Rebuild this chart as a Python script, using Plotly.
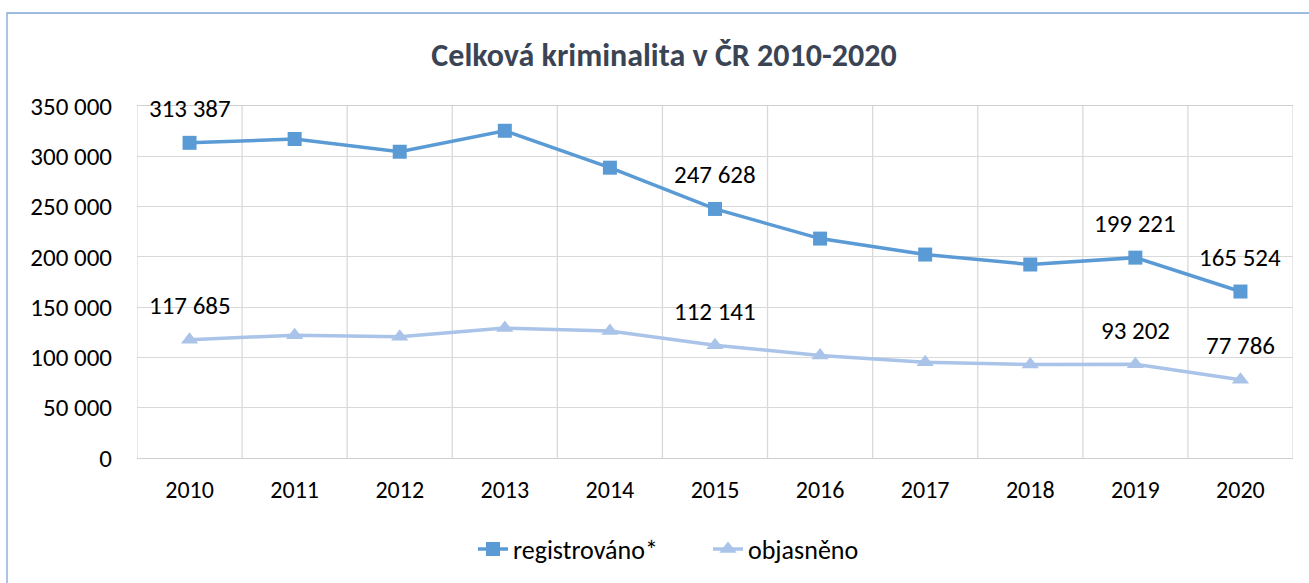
import plotly.graph_objects as go

years = ["2010", "2011", "2012", "2013", "2014", "2015", "2016", "2017", "2018", "2019", "2020"]
registrovano = [313387, 317177, 304528, 325366, 288660, 247628, 218162, 202303, 192405, 199221, 165524]
objasneno = [117685, 122124, 120641, 129138, 126229, 112141, 101951, 95183, 92930, 93202, 77786]
label_years = ["2010", "2015", "2019", "2020"]
y_ticks = [0, 50000, 100000, 150000, 200000, 250000, 300000, 350000]

FONT = "Carlito, Lato, sans-serif"
C1 = "#5B9BD5"
C2 = "#A9C4E8"

fig = go.Figure()
fig.add_trace(go.Scatter(
    x=years, y=registrovano, name="registrováno*", mode="lines+markers",
    line=dict(color=C1, width=3.5), marker=dict(symbol="square", size=14, color=C1)))
fig.add_trace(go.Scatter(
    x=years, y=objasneno, name="objasněno", mode="lines+markers",
    line=dict(color=C2, width=3.5), marker=dict(symbol="triangle-up", size=15, color=C2)))

def fmt(v):
    return f"{v:,}".replace(",", " ")

for series in (registrovano, objasneno):
    for i, (yr, v) in enumerate(zip(years, series)):
        if yr in label_years:
            fig.add_annotation(x=i, y=v, xref="x", yref="y", text=fmt(v), showarrow=False,
                               yshift=34, font=dict(family=FONT, size=25, color="#000000"))

fig.add_shape(type="rect", xref="paper", yref="paper",
              x0=(7 - 137) / 1156, x1=1.2, y0=-1, y1=(458 - 13) / 352,
              line=dict(color="#7FA6D6", width=1.3), fillcolor="rgba(0,0,0,0)", layer="below")

fig.update_layout(
    width=1309, height=583,
    margin=dict(l=137, r=16, t=106, b=125),
    paper_bgcolor="white", plot_bgcolor="white",
    separators=", ",
    title=dict(text="<b>Celková kriminalita v ČR 2010-2020</b>", x=664 / 1309, xanchor="center",
               y=1 - 55 / 583, yanchor="middle", xref="container", yref="container",
               font=dict(family=FONT, size=32, color="#3A4454")),
    font=dict(family=FONT, size=24, color="#000000"),
    legend=dict(orientation="h", x=473 / 1309, xanchor="left", xref="container",
                y=1 - 549 / 583, yanchor="middle", yref="container",
                font=dict(family=FONT, size=26, color="#000000"),
                entrywidth=190, entrywidthmode="pixels",
                tracegroupgap=0),
    showlegend=True,
)
fig.update_xaxes(type="category", showgrid=False, showline=True, linecolor="#D0D0D0", linewidth=1.3,
                 mirror=True, ticks="", ticklabelstandoff=10,
                 tickfont=dict(family=FONT, size=24, color="#000000"))
for i in range(len(years) + 1):
    fig.add_shape(type="line", xref="x", yref="paper", x0=i - 0.5, x1=i - 0.5, y0=0, y1=1,
                  line=dict(color="#D9D9D9", width=1.3), layer="below")
fig.update_xaxes(range=[-0.5, len(years) - 0.5])
fig.update_yaxes(range=[0, 350000], tickvals=y_ticks, tickformat=",d", showgrid=True,
                 gridcolor="#D9D9D9", gridwidth=1.3, zeroline=False, showline=False,
                 ticks="", ticklabelstandoff=24,
                 tickfont=dict(family=FONT, size=25, color="#000000"))

fig.write_html("out.html", config={"displayModeBar": False},
               post_script="document.body.style.margin='0px';")
